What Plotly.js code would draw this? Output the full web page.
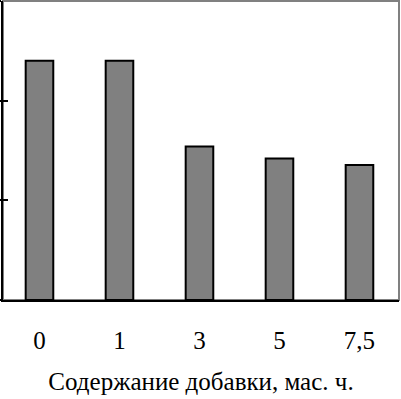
<!DOCTYPE html>
<html><head><meta charset="utf-8">
<script src="https://cdn.plot.ly/plotly-3.0.1.min.js"></script>
<style>html,body{margin:0;padding:0;background:#fff}#c{width:401px;height:399px}</style>
</head><body><div id="c"></div>
<script>
var categories = ['0', '1', '3', '5', '7,5'];
var values = [2.40, 2.40, 1.54, 1.42, 1.355];
var yTicks = [0, 1, 2, 3];
var xTitle = 'Содержание добавки, мас. ч.';
var FAM = 'Liberation Serif';

var data = [{
  type: 'bar', x: categories, y: values,
  marker: {color: '#808080', line: {color: '#000', width: 2}},
  hoverinfo: 'none'
}, {
  type: 'scatter', x: [], y: [], yaxis: 'y2', showlegend: false
}];

var layout = {
  width: 401, height: 399,
  margin: {l: 3, r: 2, t: 1, b: 99, pad: 0},
  paper_bgcolor: '#fff', plot_bgcolor: '#fff',
  showlegend: false,
  bargap: 0.655,
  font: {family: FAM, color: '#000', size: 25},
  xaxis: {
    type: 'category', range: [-0.456, 4.494],
    showline: true, linecolor: '#000', linewidth: 2,
    ticks: '', showgrid: false, zeroline: false,
    ticklabelstandoff: 17,
    tickfont: {family: FAM, size: 25, color: '#000'},
    title: {text: xTitle, font: {family: FAM, size: 25, color: '#000'}, standoff: 19}
  },
  yaxis: {
    range: [0, 3], tickvals: yTicks, showticklabels: false,
    showline: true, linecolor: '#000', linewidth: 2,
    ticks: 'outside', ticklen: 3, tickwidth: 2, tickcolor: '#000',
    showgrid: false, zeroline: false
  },
  yaxis2: {
    overlaying: 'y', side: 'left', range: [0, 3], tickvals: yTicks, showticklabels: false,
    showline: false, ticks: 'inside', ticklen: 5, tickwidth: 2, tickcolor: '#000',
    showgrid: false, zeroline: false
  },
  shapes: [{
    type: 'rect', xref: 'paper', yref: 'paper', x0: 0, x1: 1, y0: 0, y1: 1,
    line: {color: '#808080', width: 2}, layer: 'below'
  }]
};
Plotly.newPlot('c', data, layout, {staticPlot: true, displayModeBar: false});
</script></body></html>
